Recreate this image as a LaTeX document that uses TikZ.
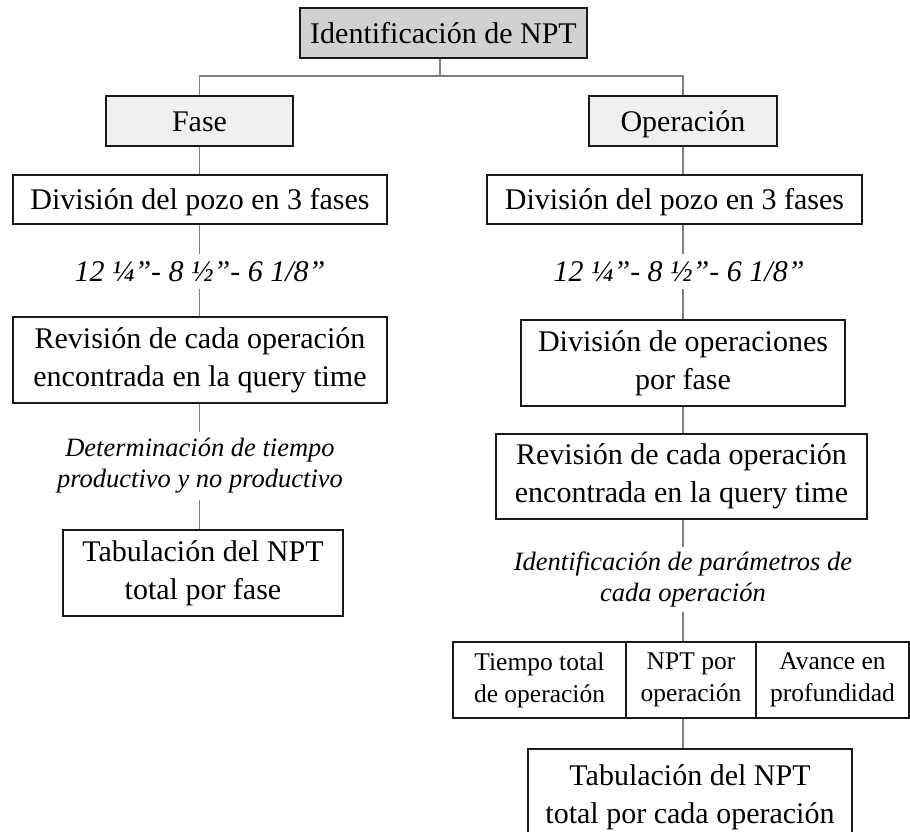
\documentclass[tikz,border=0pt]{standalone}
\usepackage{fontspec}
\setmainfont{Liberation Serif}
\begin{document}
\begin{tikzpicture}[x=1pt,y=-1pt,
  box/.style={draw=black!90, line width=1.6pt, fill=white, inner sep=0pt,
    align=center, font=\fontsize{30}{38}\selectfont},
  oneline/.style={text height=20pt, text depth=0pt},
  cell/.style={box, font=\fontsize{25.5}{32}\selectfont},
  note/.style={inner sep=0pt, align=center, font=\fontsize{26.5}{31}\selectfont\itshape},
  sizes/.style={note, oneline, font=\fontsize{30}{38}\selectfont\itshape},
  link/.style={draw=black!50, line width=1.2pt}]
\path[use as bounding box, clip] (0,0) rectangle (910,831);

% root and the two branches
\node[box, oneline, fill=black!18, minimum width=287pt, minimum height=50pt] (root) at (443.5,33) {Identificación de NPT};
\node[box, oneline, fill=black!6, minimum width=187pt, minimum height=50pt] (fase) at (199.5,121) {Fase};
\node[box, oneline, fill=black!6, minimum width=188pt, minimum height=50pt] (ope) at (683,121) {Operación};
\coordinate (j) at (440,76);
\draw[link] (root.south -| j) -- (j);
\draw[link] (fase.north) |- (j) -| (ope.north);

% left branch: by phase
\node[box, oneline, minimum width=374pt, minimum height=49pt] (divL) at (200,199.5) {División del pozo en 3 fases};
\node[sizes, minimum height=35pt] (medL) at (200,271.5) {12 ¼”- 8 ½”- 6 1/8”};
\node[box, minimum width=374pt, minimum height=86pt] (revL) at (200,360) {Revisión de cada operación\\encontrada en la query time};
\node[note, minimum height=68pt] (detL) at (200,466) {Determinación de tiempo\\productivo y no productivo};
\node[box, minimum width=280pt, minimum height=86pt] (tabL) at (203,573) {Tabulación del NPT\\total por fase};

\draw[link] (fase.south) -- (fase.south |- divL.north);
\draw[link] (fase.south |- divL.south) -- (fase.south |- medL.north);
\draw[link] (fase.south |- medL.south) -- (fase.south |- revL.north);
\draw[link] (fase.south |- revL.south) -- (fase.south |- detL.north);
\draw[link] (fase.south |- detL.south) -- (fase.south |- tabL.north);

% right branch: by operation
\node[box, oneline, minimum width=375pt, minimum height=49pt] (divR) at (674.5,199.5) {División del pozo en 3 fases};
\node[sizes, minimum height=35pt] (medR) at (679,271.5) {12 ¼”- 8 ½”- 6 1/8”};
\node[box, minimum width=324pt, minimum height=86pt] (divOp) at (683,363) {División de operaciones\\por fase};
\node[box, minimum width=371pt, minimum height=85pt] (revR) at (681.5,476.5) {Revisión de cada operación\\encontrada en la query time};
\node[note, minimum height=65pt] (parR) at (683,579.5) {Identificación de parámetros de\\cada operación};

\node[cell, minimum width=173pt, minimum height=76pt] (tiempo) at (539.5,680) {Tiempo total\\de operación};
\node[cell, minimum width=130pt, minimum height=76pt] (nptop) at (691,680) {NPT por\\operación};
\node[cell, minimum width=153pt, minimum height=76pt] (avance) at (832.5,680) {Avance en\\profundidad};
\node[box, minimum width=324pt, minimum height=96pt] (tabR) at (690,797) {Tabulación del NPT\\total por cada operación};

\draw[link] (ope.south) -- (ope.south |- divR.north);
\draw[link] (ope.south |- divR.south) -- (ope.south |- medR.north);
\draw[link] (ope.south |- medR.south) -- (ope.south |- divOp.north);
\draw[link] (ope.south |- divOp.south) -- (ope.south |- revR.north);
\draw[link] (ope.south |- revR.south) -- (ope.south |- parR.north);
\draw[link] (ope.south |- parR.south) -- (ope.south |- nptop.north);
\draw[link] (ope.south |- nptop.south) -- (ope.south |- tabR.north);
\end{tikzpicture}
\end{document}
